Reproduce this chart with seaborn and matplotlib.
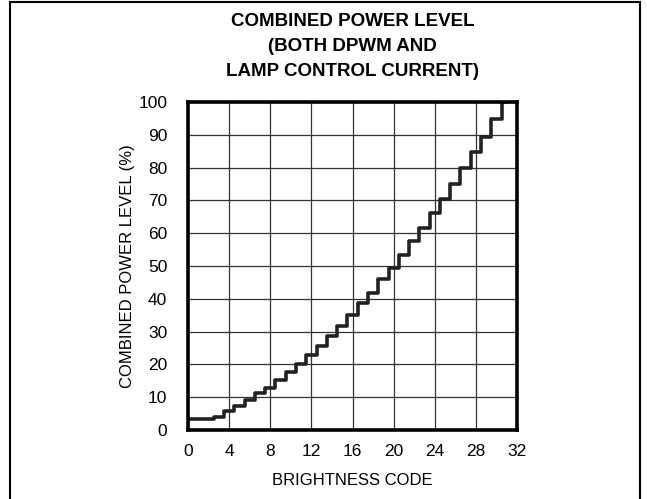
import matplotlib
matplotlib.use("Agg")
import matplotlib.pyplot as plt
import seaborn as sns
import pandas as pd
from matplotlib.patches import Rectangle

# --- Data ---
brightness_code = list(range(32))
power_level = [3.2, 3.3, 3.5, 4.0, 5.8, 7.3, 9.1, 11.2, 12.9, 15.2,
               17.8, 20.1, 22.9, 25.7, 28.8, 31.7, 35.1, 38.6, 41.9, 46.0,
               49.5, 53.2, 57.6, 61.5, 66.1, 70.3, 75.0, 79.8, 84.7, 89.4,
               94.8, 100.0]
x_ticks = [0, 4, 8, 12, 16, 20, 24, 28, 32]
y_ticks = [0, 10, 20, 30, 40, 50, 60, 70, 80, 90, 100]

title = "COMBINED POWER LEVEL\n(BOTH DPWM AND\nLAMP CONTROL CURRENT)"
x_label = "BRIGHTNESS CODE"
y_label = "COMBINED POWER LEVEL (%)"

df = pd.DataFrame({"code": brightness_code, "level": power_level})

sns.set_style("white")
plt.rcParams['font.family'] = ['Liberation Sans']
plt.rcParams['text.color'] = 'black'
plt.rcParams['axes.labelcolor'] = 'black'

fig = plt.figure(figsize=(6.47, 4.99), dpi=100)
ax = fig.add_axes([0.2906, 0.1383, 0.5085, 0.6573])

sns.lineplot(data=df, x="code", y="level", ax=ax, color="#222222",
             linewidth=2.6, drawstyle="steps-mid")

ax.set_xlim(0, 32)
ax.set_ylim(0, 100)
ax.set_xticks(x_ticks)
ax.set_yticks(y_ticks)
ax.grid(True, color="#333333", linewidth=0.9)
ax.set_axisbelow(True)
ax.tick_params(axis="both", length=0, labelsize=12.5, colors="black")
ax.tick_params(axis="y", pad=15)
ax.tick_params(axis="x", pad=10)
for s in ax.spines.values():
    s.set_visible(True)
    s.set_color("black")
    s.set_linewidth(2.6)

ax.set_xlabel(x_label, fontsize=12, labelpad=10, color="black")
ax.set_ylabel(y_label, fontsize=12, labelpad=2, color="black")
ax.set_title(title, fontsize=13.5, fontweight="heavy", linespacing=1.6,
             pad=19, color="black")

# outer frame of the figure
fig.patches.append(Rectangle((10 / 647, -0.05), 630 / 647, 1.05 - 2 / 499,
                             transform=fig.transFigure, fill=False,
                             edgecolor="black", linewidth=1.5))

fig.savefig("out.png", dpi=100)
